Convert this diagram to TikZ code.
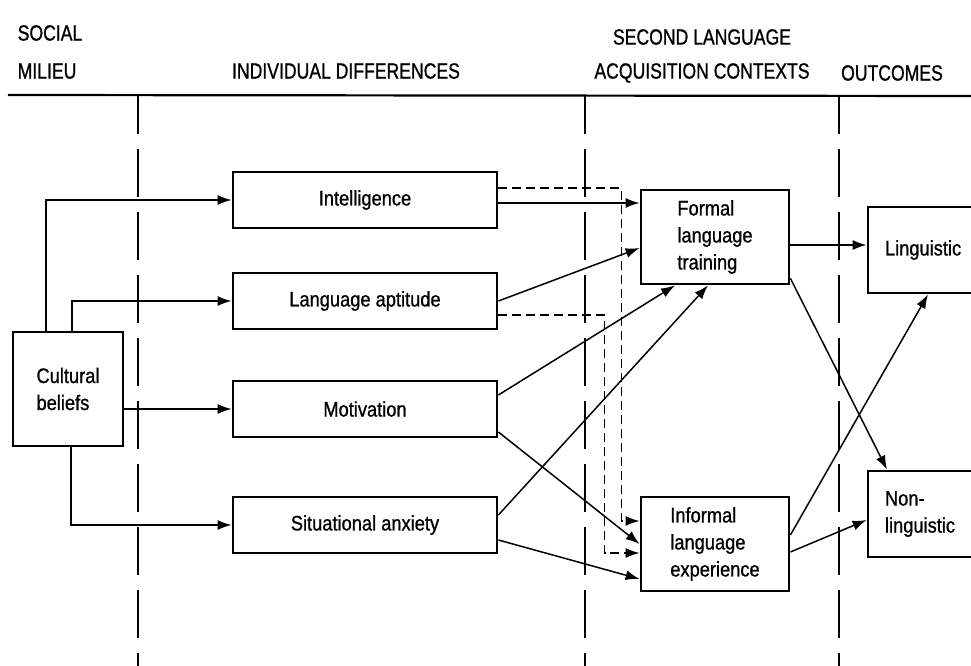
\documentclass[tikz,border=0pt]{standalone}
\usepackage{fontspec}
\setmainfont{Liberation Sans}[FakeStretch=0.87,FakeBold=0.9]
\newfontfamily\headfont{Liberation Sans}[FakeStretch=0.8,FakeBold=0.9]
\usetikzlibrary{arrows.meta}

\begin{document}
\begin{tikzpicture}[x=1pt,y=-1pt]
        \tikzstyle{every path}=[line width=1.5pt]

        \tikzstyle{cell}=[draw,line width=2.8pt,align=left,font=\fontsize{21}{27}\selectfont]
        \tikzstyle{diffbox}=[cell,minimum width=264pt,minimum height=56pt]
        \tikzstyle{ctxbox}=[cell,minimum width=148pt,minimum height=94pt]
        \tikzstyle{outbox}=[cell,minimum width=128pt,minimum height=86pt,text width=94pt]
        \tikzstyle{headtext}=[font=\headfont\fontsize{22}{38}\selectfont]
        \tikzstyle{arr}=[-{Latex[length=14pt,width=10pt]}]
        \tikzstyle{darr}=[arr,dash pattern=on 9pt off 5pt]

        \useasboundingbox (0,0) rectangle (971,666);

        %column heads
        \node [headtext,align=left] (social) at (50,52) {SOCIAL\\MILIEU};
        \node [headtext] (indiv) at (346,71) {INDIVIDUAL DIFFERENCES};
        \node [headtext,align=center,font=\headfont\fontsize{22}{34}\selectfont] (sla) at (702,56) {SECOND LANGUAGE\\ACQUISITION CONTEXTS};
        \node [headtext] (outc) at (892,73) {OUTCOMES};

        \draw [line width=2.2pt] (8,95) -- (971,96);
        \foreach \x in {138,585,839} {
            \draw [dash pattern=on 48pt off 15pt,dash phase=9pt] (\x,95) -- (\x,666);
        };

        \node [cell,minimum width=110pt,minimum height=114pt] (cult) at (68,389) {Cultural\\beliefs};

        \node [diffbox] (intel) at (365,200) {Intelligence};
        \node [diffbox] (apt) at (365,301) {Language aptitude};
        \node [diffbox] (motiv) at (365,409) {Motivation};
        \node [diffbox] (anx) at (365,525) {Situational anxiety};

        \node [ctxbox] (formal) at (715,237) {Formal\\language\\training};
        \node [ctxbox] (informal) at (715,544) {Informal\\language\\experience};

        \node [outbox] (ling) at (932,250) {Linguistic};
        \node [outbox] (nonling) at (932,514) {Non-\\linguistic};

        %social milieu to individual differences
        \draw [arr] ([xshift=-22pt]cult.north) |- (intel.west);
        \draw [arr] ([xshift=4pt]cult.north) |- (apt.west);
        \draw [arr] (cult.east |- motiv.west) -- (motiv.west);
        \draw [arr] ([xshift=3pt]cult.south) |- (anx.west);

        %individual differences to contexts
        \draw [arr] ([yshift=-3pt]intel.east) -- ([yshift=-3pt]intel.east -| formal.west);
        \draw [darr] ([yshift=12pt]intel.east) -| ([xshift=-18pt,yshift=23pt]informal.west) -- ([yshift=23pt]informal.west);
        \draw [arr] (apt.east) -- ([yshift=-11pt]formal.west);
        \draw [darr] ([yshift=-14pt]apt.east) -| ([xshift=-35pt,yshift=-9pt]informal.west) -- ([yshift=-9pt]informal.west);
        \draw [arr] ([yshift=14pt]motiv.east) -- ([xshift=-40pt]formal.south);
        \draw [arr] ([yshift=-23pt]motiv.east) -- (informal.west);
        \draw [arr] ([yshift=10pt]anx.east) -- ([xshift=-7pt]formal.south);
        \draw [arr] ([yshift=-15pt]anx.east) -- ([yshift=-35pt]informal.west);

        %contexts to outcomes
        \draw [arr] ([yshift=-8pt]formal.east) -- ([yshift=-8pt]formal.east -| ling.west);
        \draw [arr] ([yshift=7pt]formal.south east) -- ([xshift=-45pt]nonling.north);
        \draw [arr] ([yshift=9pt]informal.east) -- ([xshift=-4pt]ling.south);
        \draw [arr] ([yshift=-8pt]informal.east) -- ([yshift=-6pt]nonling.west);
\end{tikzpicture}
\end{document}
